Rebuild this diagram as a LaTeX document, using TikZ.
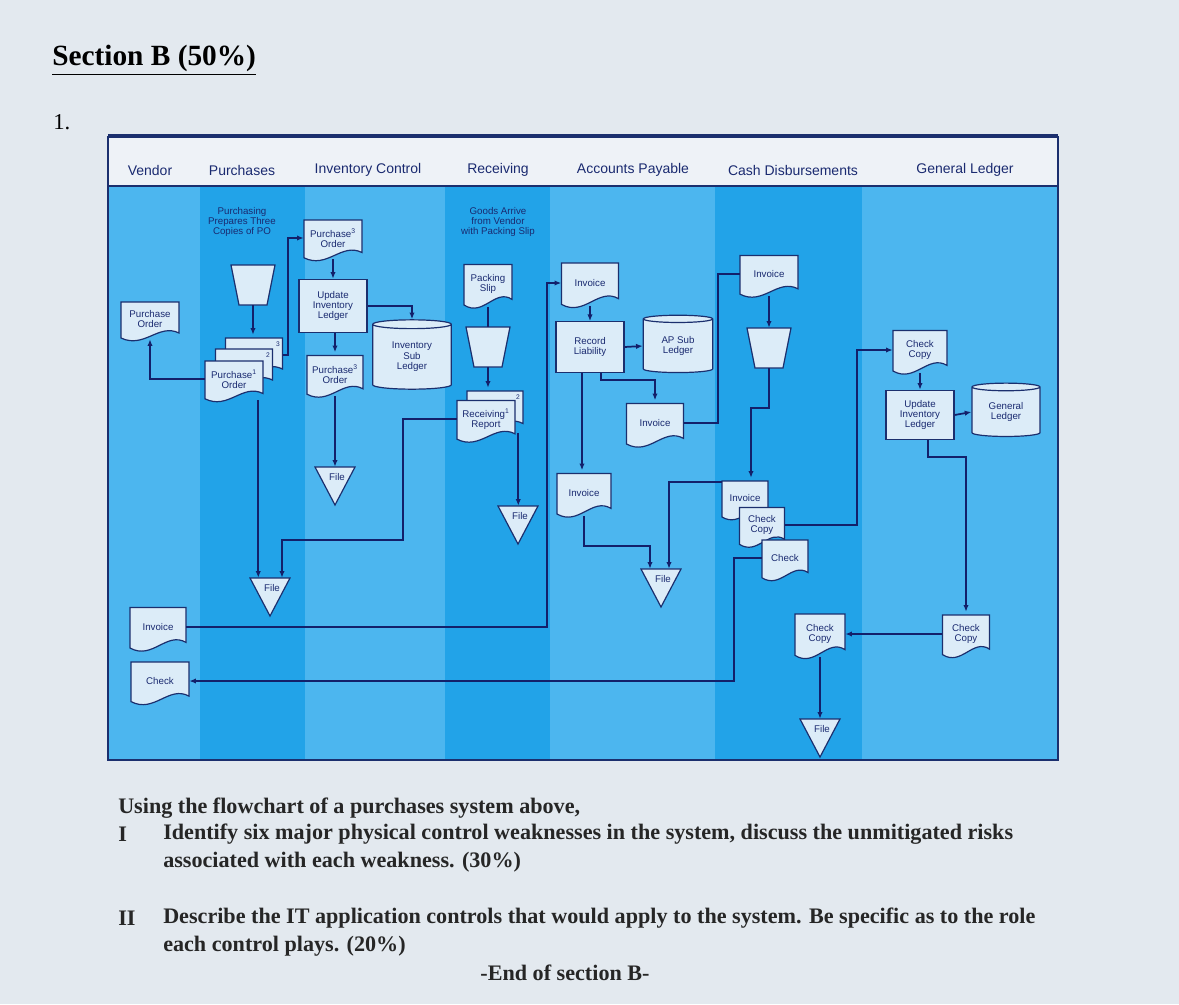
\documentclass[tikz,border=0pt]{standalone}
\usepackage{fontspec}
\setmainfont{Liberation Serif}
\newfontfamily\dsans{Liberation Sans}
\usetikzlibrary{shapes.geometric,arrows.meta,calc}
\definecolor{pagebg}{HTML}{E3E9EF}
\definecolor{lanelt}{HTML}{4CB6EF}
\definecolor{lanedk}{HTML}{22A3E8}
\definecolor{hdrbg}{HTML}{EEF2F7}
\definecolor{navy}{HTML}{1B2F6E}
\definecolor{nodefill}{HTML}{DCECF8}
\definecolor{linec}{HTML}{13206A}
\definecolor{txtc}{HTML}{1A2A70}
\tikzset{
 docshape/.style={fill=nodefill,draw=navy,line width=0.9pt},
 txt/.style={font=\dsans\fontsize{7.3}{7.8}\selectfont,text=txtc,align=center,inner sep=0pt},
 hdr/.style={font=\dsans\fontsize{10.5}{12}\selectfont,text=txtc,inner sep=0pt},
 procbox/.style={docshape,txt,rectangle},
 cyl/.style={docshape,txt,cylinder,shape border rotate=90,aspect=0.22},
 conn/.style={draw=linec,line width=1.3pt},
 arr/.style={conn,-{Latex[length=5pt,width=4pt]}},
 qtxt/.style={font=\bfseries\fontsize{16.6}{19}\selectfont,text=black!85,anchor=west,inner sep=0pt},
}
\newcommand\docu[6]{%
 \pgfmathsetmacro\dw{#4/2}\pgfmathsetmacro\dh{#5/2}%
 \filldraw[docshape,shift={(#2,#3)}] (-\dw,-\dh) -- (\dw,-\dh) -- (\dw,0.55*\dh) .. controls (0.3*\dw,0.05*\dh) and (-0.2*\dw,1.35*\dh) .. (-\dw,0.8*\dh) -- cycle;
 \node[txt,minimum width=#4*0.75pt,minimum height=#5*0.75pt] (#1) at (#2,#3-3) {#6};}
\newcommand\trap[3]{%
 \filldraw[docshape,shift={(#2,#3)}] (-22,-20) -- (22,-20) -- (14,20) -- (-14,20) -- cycle;
 \node[minimum width=33pt,minimum height=30pt,inner sep=0pt] (#1) at (#2,#3) {};}
\newcommand\filetri[3]{%
 \filldraw[docshape,shift={(#2,#3)}] (-20,-19) -- (20,-19) -- (0,19) -- cycle;
 \node[minimum width=30pt,minimum height=28.5pt,inner sep=0pt] (#1) at (#2,#3) {};
 \node[txt] (#1-t) at (#2+2,#3-9) {File};}
\begin{document}
\begin{tikzpicture}[x=0.75pt,y=-0.75pt]
\useasboundingbox (0,0) rectangle (1179,1004);
\fill[pagebg] (0,0) rectangle (1179,1004);
% title
\node[anchor=west,inner sep=0pt,font=\bfseries\fontsize{22}{26}\selectfont] (title) at (52,60) {\underline{Section B (50\%)}};
\node[anchor=west,inner sep=0pt,font=\fontsize{17}{20}\selectfont] (num) at (53,122) {1.};
% lanes
\fill[lanelt] (108,185) rectangle (1058,760);
\fill[lanedk] (200,185) rectangle (305,760);
\fill[lanedk] (445,185) rectangle (550,760);
\fill[lanedk] (715,185) rectangle (862,760);
\fill[hdrbg] (108,137) rectangle (1058,186);
\draw[navy,line width=1.5pt] (108,137) rectangle (1058,760);
\draw[navy,line width=1pt] (108,186) -- (1058,186);
\draw[navy,line width=3pt] (108,136) -- (1058,136);
\node[hdr] (h1) at (150,170) {Vendor};
\node[hdr] (h2) at (242,170) {Purchases};
\node[hdr] (h3) at (368,170) {Inventory Control};
\node[hdr] (h4) at (498,170) {Receiving};
\node[hdr] (h5) at (633,170) {Accounts Payable};
\node[hdr] (h6) at (793,170) {Cash Disbursements};
\node[hdr] (h7) at (965,170) {General Ledger};
% texts
\node[txt] (ptext) at (242,222) {Purchasing\\Prepares Three\\Copies of PO};
\node[txt] (gtext) at (498,222) {Goods Arrive\\from Vendor\\with Packing Slip};
% nodes
\docu{vpo}{150}{322}{58}{40}{Purchase\\Order}
\trap{ptrap}{253}{285}
\docu{b3}{254}{358}{57}{40}{}
\node[txt] (b3n) at (278,344) {\tiny 3};
\docu{b2}{244}{369}{57}{40}{}
\node[txt] (b2n) at (268,355) {\tiny 2};
\docu{pfr}{234}{382}{58}{42}{Purchase\textsuperscript{1}\\Order}
\docu{ipo}{333}{241}{58}{42}{Purchase\textsuperscript{3}\\Order}
\node[procbox,minimum width=51pt,minimum height=40pt] (upd) at (333,306) {Update\\Inventory\\Ledger};
\docu{ipo3}{335}{377}{56}{43}{Purchase\textsuperscript{3}\\Order}
\node[cyl,minimum width=59pt,minimum height=52pt] (isl) at (412,357) {Inventory\\Sub\\Ledger};
\filetri{ifile}{335}{486}
\docu{pslip}{488}{287}{48}{45}{Packing\\Slip}
\trap{rtrap}{488}{347}
\docu{rb2}{495}{412}{56}{42}{}
\node[txt] (rb2n) at (518,397) {\tiny 2};
\docu{rrep}{486}{422}{58}{43}{Receiving\textsuperscript{1}\\Report}
\filetri{rfile}{518}{525}
\filetri{pfile}{270}{597}
\docu{apinv}{590}{286}{57}{46}{Invoice}
\node[procbox,minimum width=51pt,minimum height=38pt] (rl) at (590,347) {Record\\Liability};
\node[cyl,minimum width=52pt,minimum height=43pt] (apsl) at (678,346) {AP Sub\\Ledger};
\docu{inv2}{655}{426}{57}{45}{Invoice}
\docu{apinv3}{584}{496}{54}{45}{Invoice}
\filetri{apfile}{661}{588}
\docu{cinv}{769}{277}{58}{43}{Invoice}
\trap{ctrap}{769}{348}
\docu{cinv2}{745}{501}{46}{40}{Invoice}
\docu{ccc}{762}{528}{45}{41}{Check\\Copy}
\docu{cck}{785}{561}{46}{42}{Check}
\docu{ccc2}{820}{637}{50}{46}{Check\\Copy}
\filetri{cfile}{820}{738}
\docu{gcc}{920}{353}{54}{45}{Check\\Copy}
\node[procbox,minimum width=51pt,minimum height=37pt] (gupd) at (920,415) {Update\\Inventory\\Ledger};
\node[cyl,minimum width=51pt,minimum height=40pt] (gl) at (1006,412) {General\\Ledger};
\docu{gcc2}{966}{637}{47}{44}{Check\\Copy}
\docu{vinv}{158}{630}{56}{45}{Invoice}
\docu{vck}{160}{684}{58}{44}{Check}
% connectors
\draw[arr] (ptrap.south) -- (ptrap.south |- b3.north);
\draw[arr] (pfr.west) -| (vpo.south);
\draw[arr] (b3.east) -- ++(5,0) |- (ipo.west);
\draw[arr] (ipo.south) -- (ipo.south |- upd.north);
\draw[arr] (upd.east) -| (isl.north);
\draw[arr] (ipo3.north |- upd.south) -- (ipo3.north);
\draw[arr] (ipo3.south) -- (ipo3.south |- ifile.north);
\draw[arr] ($(pfr.south east)+(-5,0)$) -- ($(pfr.south east |- pfile.north)+(-5,0)$);
\coordinate (rw1) at (403,540);
\draw[arr] (rrep.west) -| (rw1) -| ($(pfile.north)+(12,0)$);
\draw[conn] (pslip.south) -- (rtrap.north);
\draw[arr] (rtrap.south) -- (rtrap.south |- rb2.north);
\draw[arr] ($(rrep.south east)+(3,-8)$) -- ($(rrep.south east |- rfile.north)+(3,0)$);
\draw[arr] (vinv.east) -| ($(apinv.west)+(-14,0)$) -- (apinv.west);
\draw[arr] (apinv.south) -- (rl.north);
\draw[arr] (rl.east) -- (apsl.west);
\draw[arr] ($(rl.south)+(11,0)$) -- ++(0,7) -| (inv2.north);
\draw[arr] ($(rl.south)+(-8,0)$) -- ($(rl.south |- apinv3.north)+(-8,0)$);
\draw[conn] (inv2.east) -| ($(cinv.west)+(-22,0)$) -- (cinv.west);
\draw[arr] (cinv.south) -- (ctrap.north);
\draw[arr] (ctrap.south) -- ++(0,40) -| ($(cinv2.north)+(6,0)$);
\draw[arr] (apinv3.south) -- ++(0,30) -| ($(apfile.north)+(-11,0)$);
\draw[arr] ($(cinv2.north west)+(0,4)$) -| ($(apfile.north)+(8,0)$);
\draw[arr] (ccc.east) -| ($(gcc.west)+(-36,0)$) -- (gcc.west);
\draw[arr] (cck.west) -| ($(vck.east)+(545,0)$) -- (vck.east);
\draw[arr] (gcc.south) -- (gupd.north);
\draw[arr] (gupd.east) -- (gl.west);
\draw[arr] ($(gupd.south)+(8,0)$) -- ++(0,17) -| (gcc2.north);
\draw[arr] (gcc2.west) -- (ccc2.east);
\draw[arr] (ccc2.south) -- (cfile.north);
% question text
\node[qtxt] (q0) at (118,808) {Using the flowchart of a purchases system above,};
\node[qtxt] (q1n) at (118,834) {I};
\node[qtxt] (q1) at (163,834) {Identify six major physical control weaknesses in the system, discuss the unmitigated risks};
\node[qtxt] (q1b) at (163,862) {associated with each weakness. (30\%)};
\node[qtxt] (q2n) at (118,918) {II};
\node[qtxt] (q2) at (163,918) {Describe the IT application controls that would apply to the system. Be specific as to the role};
\node[qtxt] (q2b) at (163,946) {each control plays. (20\%)};
\node[qtxt,anchor=center] (qend) at (565,973) {-End of section B-};
\end{tikzpicture}
\end{document}
